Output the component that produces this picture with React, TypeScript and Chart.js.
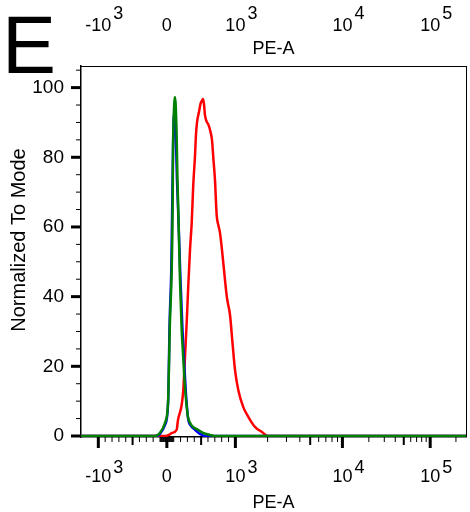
import { useEffect, useRef } from "react";
import { Chart, registerables } from "chart.js";

Chart.register(...registerables);

const FONT = "'Liberation Sans', Arial, Helvetica, sans-serif";

const panelLetter = "E";
const xAxisTitle = "PE-A";
const yAxisTitle = "Normalized To Mode";

// Biexponential display axis: data values -> display units (0..1000 across plot)
const xAnchorValues = [0, 1000, 10000, 100000, 262144];
const xAnchorDisplay = [223, 401, 679, 907, 1000];

const xMajorTicks = [-1000, 0, 1000, 10000, 100000];
const xMajorBase = ["-10", "0", "10", "10", "10"];
const xMajorExp = ["3", "", "3", "4", "5"];
const xMediumTicks = [-500, 500, 5000, 50000];
const xMinorTicks = [
  -900, -800, -700, -600, -400, -300, -200, -100,
  -90, -80, -70, -60, -50, -40, -30, -20, -10,
  10, 20, 30, 40, 50, 60, 70, 80, 90,
  100, 200, 300, 400, 600, 700, 800, 900,
  2000, 3000, 4000, 6000, 7000, 8000, 9000,
  20000, 30000, 40000, 60000, 70000, 80000, 90000,
  200000,
];

const yMajorTicks = [0, 20, 40, 60, 80, 100];
const yMinorTicks = [5, 10, 15, 25, 30, 35, 45, 50, 55, 65, 70, 75, 85, 90, 95, 105];

// Histograms: x in display units (0..1000), y in % of mode
const redX = [0, 205.2, 218.2, 231.1, 236.3, 248.5, 251.9, 261.5, 265.7, 270.1, 274.5, 278.7, 283.1, 287.5, 291.6, 296.0, 298.6, 301.2, 306.4, 310.3, 313.5, 316.8, 319.4, 322.0, 325.9, 331.1, 335.0, 340.2, 344.1, 348.0, 352.4, 356.6, 361.0, 367.5, 374.0, 379.2, 387.0, 394.0, 400.0, 408.5, 421.5, 434.5, 451.9, 469.3, 485.6, 503.8, 1000];
const redY = [0, 0, 0, 0.5, 0.9, 1.8, 4.6, 8.9, 13.2, 22.7, 32.5, 43.3, 53.4, 61.1, 72.1, 80.2, 86.4, 89.9, 93.0, 95.3, 96.1, 96.7, 95.3, 92.1, 90.4, 89.3, 87.9, 85.0, 79.2, 73.5, 63.4, 60.6, 58.3, 52.0, 44.8, 39.6, 34.8, 26.1, 19.0, 13.2, 8.3, 5.5, 2.6, 1.2, 0, 0, 0];

const blueX = [0, 194.8, 205.2, 218.2, 226.0, 230.4, 234.5, 237.1, 239.0, 241.5, 245.4, 249.3, 253.2, 258.4, 263.6, 267.5, 272.7, 277.9, 285.7, 296.1, 309.0, 324.6, 1000];
const blueY = [0, 0, 0.6, 3.2, 8.9, 33.4, 47.7, 67.8, 82.2, 92.7, 89.3, 73.5, 62.0, 44.8, 30.5, 21.8, 11.9, 5.2, 2.9, 1.8, 0.6, 0, 0];

const greenX = [0, 192.2, 205.2, 218.2, 226.0, 231.2, 235.6, 238.2, 239.0, 240.3, 244.2, 248.1, 250.6, 252.7, 257.1, 261.5, 264.9, 270.1, 277.9, 283.1, 290.9, 303.8, 316.8, 335.0, 348.0, 1000];
const greenY = [0, 0, 0.9, 3.8, 9.5, 33.4, 47.7, 67.8, 82.2, 89.9, 97.3, 87.9, 73.5, 64.9, 44.8, 30.5, 23.8, 14.1, 5.5, 3.8, 2.6, 1.8, 0.9, 0.3, 0, 0];

function toDisplay(v: number): number {
  const zero = xAnchorDisplay[0];
  const s = Math.sign(v);
  const a = Math.abs(v);
  let d: number;
  if (a <= xAnchorValues[1]) {
    d = (a / xAnchorValues[1]) * (xAnchorDisplay[1] - zero);
  } else {
    let i = 1;
    while (i < xAnchorValues.length - 2 && a > xAnchorValues[i + 1]) i++;
    const f =
      (Math.log10(a) - Math.log10(xAnchorValues[i])) /
      (Math.log10(xAnchorValues[i + 1]) - Math.log10(xAnchorValues[i]));
    d = xAnchorDisplay[i] - zero + f * (xAnchorDisplay[i + 1] - xAnchorDisplay[i]);
  }
  return zero + s * d;
}

const pts = (xs: number[], ys: number[]) => xs.map((x, i) => ({ x, y: ys[i] }));

const decorPlugin = {
  id: "decor",
  afterDraw(chart: any) {
    const ctx: CanvasRenderingContext2D = chart.ctx;
    const { right, top, bottom } = chart.chartArea;
    const xs = chart.scales.x;
    const ys = chart.scales.y;
    const axisX = chart.chartArea.left;
    ctx.save();
    ctx.strokeStyle = "#000";
    ctx.fillStyle = "#000";
    // right frame
    ctx.lineWidth = 1;
    ctx.beginPath();
    ctx.moveTo(Math.round(right) + 0.5, top);
    ctx.lineTo(Math.round(right) + 0.5, bottom);
    ctx.stroke();

    const xTick = (v: number, len: number, w: number) => {
      const px = xs.getPixelForValue(toDisplay(v));
      ctx.lineWidth = w;
      ctx.beginPath();
      ctx.moveTo(px, bottom);
      ctx.lineTo(px, bottom + len);
      ctx.stroke();
    };
    xMinorTicks.forEach((v) => xTick(v, 5, 1));
    xMediumTicks.forEach((v) => xTick(v, 8, 2));
    xMajorTicks.forEach((v) => xTick(v, 11, 3));

    const yTick = (v: number, len: number, w: number) => {
      const py = ys.getPixelForValue(v);
      ctx.lineWidth = w;
      ctx.beginPath();
      ctx.moveTo(axisX, py);
      ctx.lineTo(axisX - len, py);
      ctx.stroke();
    };
    yMinorTicks.forEach((v) => yTick(v, 5, 1));
    yMajorTicks.forEach((v) => yTick(v, 10, 3));

    // x tick labels with superscript exponents, bottom and top
    ctx.font = `18px ${FONT}`;
    ctx.textBaseline = "middle";
    ctx.textAlign = "left";
    xMajorTicks.forEach((v, i) => {
      const px = xs.getPixelForValue(toDisplay(v));
      const base = xMajorBase[i];
      const exp = xMajorExp[i];
      const bw = ctx.measureText(base).width;
      const x0 = px - bw / 2;
      ctx.fillText(base, x0, 477);
      ctx.fillText(base, x0, 26);
      if (exp) {
        ctx.fillText(exp, x0 + bw + 2, 468);
        ctx.fillText(exp, x0 + bw + 2, 14);
      }
    });

    // y axis title
    ctx.save();
    ctx.font = `20px ${FONT}`;
    ctx.textAlign = "center";
    ctx.textBaseline = "middle";
    ctx.translate(19, 240);
    ctx.rotate(-Math.PI / 2);
    ctx.fillText(yAxisTitle, 0, 0);
    ctx.restore();

    // panel letter
    ctx.font = `81px ${FONT}`;
    ctx.textBaseline = "alphabetic";
    ctx.fillText(panelLetter, 2, 73);
    ctx.restore();
  },
};

export default function App() {
  const ref = useRef<HTMLCanvasElement | null>(null);

  useEffect(() => {
    if (!ref.current) return;
    const titleFont = { family: FONT, size: 18, lineHeight: 1 };
    const chart = new Chart(ref.current, {
      type: "line",
      data: {
        datasets: [
          {
            label: "red",
            data: pts(redX, redY),
            borderColor: "#ff0000",
            order: 3,
          },
          {
            label: "blue",
            data: pts(blueX, blueY),
            borderColor: "#0000ff",
            order: 2,
          },
          {
            label: "green",
            data: pts(greenX, greenY),
            borderColor: "#008000",
            order: 1,
          },
        ],
      },
      options: {
        responsive: false,
        animation: false,
        layout: { padding: { left: 0, right: 4, top: 0, bottom: 0 } },
        elements: {
          point: { radius: 0 },
          line: { borderWidth: 2.5, cubicInterpolationMode: "monotone", fill: false },
        },
        plugins: { legend: { display: false }, tooltip: { enabled: false } },
        scales: {
          x: {
            type: "linear",
            position: "bottom",
            min: 0,
            max: 1000,
            grid: { display: false, drawTicks: false },
            border: { display: true, color: "#000", width: 1.5 },
            ticks: { display: false },
            title: {
              display: true,
              text: xAxisTitle,
              color: "#000",
              font: titleFont,
              padding: { top: 0, bottom: 0 },
            },
            afterFit: (s: any) => {
              s.height = 75;
            },
          },
          x2: {
            type: "linear",
            axis: "x",
            position: "top",
            min: 0,
            max: 1000,
            grid: { display: false, drawTicks: false },
            border: { display: true, color: "#000", width: 1 },
            ticks: { display: false },
            title: {
              display: true,
              text: xAxisTitle,
              color: "#000",
              font: titleFont,
              padding: { top: 40, bottom: 0 },
            },
            afterFit: (s: any) => {
              s.height = 66;
            },
          },
          y: {
            type: "linear",
            position: "left",
            min: -0.29,
            max: 106.2,
            grid: { display: false, drawTicks: false },
            border: { display: true, color: "#000", width: 1.5 },
            ticks: {
              color: "#000",
              font: { family: FONT, size: 19 },
              padding: 17,
              callback: (v: any) => String(v),
            },
            afterBuildTicks: (s: any) => {
              s.ticks = yMajorTicks.map((v) => ({ value: v }));
            },
            title: { display: false },
            afterFit: (s: any) => {
              s.width = 81;
            },
          },
        },
      } as any,
      plugins: [decorPlugin],
    });
    return () => chart.destroy();
  }, []);

  return (
    <div style={{ position: "absolute", left: 0, top: 0, width: 470, height: 512, background: "#fff" }}>
      <canvas ref={ref} width={470} height={512} style={{ display: "block" }} />
    </div>
  );
}
